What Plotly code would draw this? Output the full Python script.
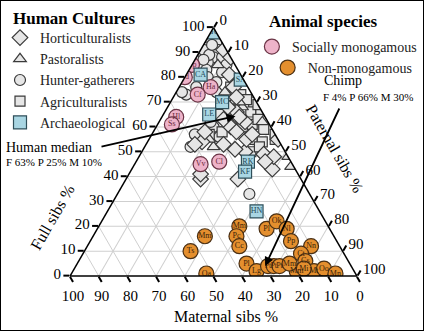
import plotly.graph_objects as go

# ---------------- data (Full %, Paternal %, Maternal %) ----------------
horti_F = [91, 88, 81, 76, 60, 58, 54, 53, 50, 49, 43, 39, 48, 55, 39, 53, 58, 55, 66, 68, 41, 63, 62, 57, 51, 46, 64, 72]
horti_P = [8, 12, 15, 19, 26, 29, 19, 27, 36, 43, 49, 39, 47, 45, 26, 17, 18, 34, 25, 21, 25, 22, 30, 35, 32, 45, 27, 22]
horti_M = [1, 0, 4, 5, 14, 13, 27, 20, 14, 8, 8, 22, 5, 0, 35, 30, 24, 11, 9, 11, 34, 15, 8, 8, 17, 9, 9, 6]

past_F = [85, 74, 70, 68, 52, 48, 44, 70, 55, 66, 61, 62]
past_P = [9, 17, 22, 26, 24, 52, 55, 24, 21, 22, 26, 36]
past_M = [6, 9, 8, 6, 24, 0, 1, 6, 24, 12, 13, 2]

hunt_F = [95, 94, 92, 91, 89, 88, 88, 85, 86, 85, 74, 73, 57, 58, 33, 63, 91, 74,
          83, 80, 78, 76, 89, 93, 87, 82, 60, 62, 56, 52]
hunt_P = [1, 4, 2, 6, 2, 6, 9, 3, 5, 12, 14, 4, 15, 23, 46, 28, 1, 2,
          6, 8, 12, 6, 4, 3, 3, 12, 20, 18, 24, 16]
hunt_M = [4, 2, 6, 3, 9, 6, 3, 12, 9, 3, 12, 23, 28, 19, 21, 9, 8, 24,
          11, 12, 10, 18, 7, 4, 10, 6, 20, 20, 20, 32]

agri_F = [73, 70, 65, 66, 67, 61, 57, 55, 54, 55, 57, 69, 50, 63, 59, 52, 60, 76, 71, 58]
agri_P = [23, 29, 20, 30, 33, 33, 20, 36, 40, 44, 43, 31, 38, 34, 38, 40, 30, 18, 26, 24]
agri_M = [4, 1, 15, 4, 0, 6, 23, 9, 6, 1, 0, 0, 12, 3, 3, 8, 10, 6, 3, 18]

arch_lab = ["GU", "CA", "SA", "MC", "LE", "RK", "KF", "HN"]
arch_F = [98, 81, 79, 70, 65, 46, 42, 26]
arch_P = [1, 5, 20, 18, 16, 39, 40, 52]
arch_M = [1, 14, 1, 12, 19, 15, 18, 22]

mono_lab = ["Lp", "Fd", "Ha", "Cf", "Hl", "Ss", "Vv", "Cl"]
mono_F = [85, 80, 76, 73, 64, 61, 45, 46]
mono_P = [0, 0, 11, 8, 5, 5, 23, 29]
mono_M = [15, 20, 13, 19, 31, 34, 32, 25]

nonmono_lab = ["Ts", "Mm", "Oa", "Mm", "Pc", "Cc", "Pl", "Lg", "Pt", "Pt", "Pt", "Pl", "Ok",
               "Nl", "Pp", "Nn", "Ct", "Cs", "Mm", "Mt", "Oo", "Mn", "Mm", "Mi"]
nonmono_F = [10, 16, 1, 20, 16, 12, 5, 2, 4, 4, 4, 19, 22, 19, 14, 12, 9, 6, 2, 2, 3, 1, 5, 3]
nonmono_P = [37, 39, 47, 49, 50, 53, 59, 64, 67, 69, 71, 59, 61, 66, 70, 78, 76, 79, 78, 84, 87, 92, 74, 80]
nonmono_M = [53, 45, 52, 31, 34, 35, 36, 34, 29, 27, 25, 22, 17, 15, 16, 10, 15, 15, 20, 14, 10, 7, 21, 17]

median_FPM = [63, 25, 10]
chimp_FPM = [4, 66, 30]

tick_vals = [0, 10, 20, 30, 40, 50, 60, 70, 80, 90, 100]

# ---------------- styling ----------------
W, H = 424, 331
DOM_X = [70 / W, 357 / W]
DOM_Y = [55 / H, 303.5 / H]
SERIF = "Liberation Serif"

HUM_FILL = "#e6e6e6"
HUM_LINE = "#3a3a3a"
ARCH_FILL = "#a9d6e3"
ARCH_LINE = "#2f4f5a"
PINK = "#eeb3c9"
PINK_LINE = "#6b3546"
ORANGE = "#e48f2e"
ORANGE_LINE = "#4a3015"

fig = go.Figure()


def human(F, P, M, symbol, size, name, rank):
    fig.add_trace(go.Scatterternary(
        a=F, b=M, c=P, mode="markers", name=name, legend="legend", legendrank=rank,
        hoverinfo="skip",
        marker=dict(symbol=symbol, size=size, color=HUM_FILL,
                    line=dict(color=HUM_LINE, width=1.2))))


human(hunt_F, hunt_P, hunt_M, "circle", 11, "Hunter-gatherers", 3)
human(agri_F, agri_P, agri_M, "square", 10, "Agriculturalists", 4)
human(past_F, past_P, past_M, "triangle-up", 11, "Pastoralists", 2)
human(horti_F, horti_P, horti_M, "diamond", 12, "Horticulturalists", 1)


def labelled(F, P, M, labels, fill, line, tcolor, symbol, size, name, legend, rank):
    fig.add_trace(go.Scatterternary(
        a=F, b=M, c=P, mode="markers", name=name, legend=legend, legendrank=rank,
        hoverinfo="skip",
        marker=dict(symbol=symbol, size=size, color=fill, line=dict(color=line, width=1.2))))
    fig.add_trace(go.Scatterternary(
        a=F, b=M, c=P, text=labels, mode="text", textposition="middle center",
        showlegend=False, hoverinfo="skip",
        textfont=dict(family=SERIF, size=8, color=tcolor)))


labelled(mono_F, mono_P, mono_M, mono_lab, PINK, PINK_LINE, "#6b2a3c", "circle", 15,
         "Socially monogamous", "legend2", 1)
labelled(nonmono_F, nonmono_P, nonmono_M, nonmono_lab, ORANGE, ORANGE_LINE, "#3a2208", "circle", 15,
         "Non-monogamous", "legend3", 1)
labelled(arch_F, arch_P, arch_M, arch_lab, ARCH_FILL, ARCH_LINE, "#1f4a58", "square", 13,
         "Archaeological", "legend", 5)


def axis():
    return dict(title=dict(text=""), min=0, linecolor="black", linewidth=1.5,
                gridcolor="#cfcfcf", gridwidth=1, showgrid=True,
                ticks="outside", ticklen=6, tickwidth=1.5, tickcolor="black",
                tickvals=tick_vals, ticktext=[str(v) for v in tick_vals],
                tickfont=dict(family=SERIF, size=15, color="black"))


def leg(x, y, xanchor="left"):
    return dict(x=x, y=y, xanchor=xanchor, yanchor="top", bgcolor="rgba(0,0,0,0)",
                font=dict(family=SERIF, size=14, color="#222"), itemsizing="trace",
                tracegroupgap=0, itemwidth=30)


fig.update_layout(
    width=W, height=H, margin=dict(l=0, r=0, t=0, b=0),
    paper_bgcolor="white", plot_bgcolor="white",
    ternary=dict(sum=100, domain=dict(x=DOM_X, y=DOM_Y), bgcolor="white",
                 aaxis=axis(), baxis=axis(), caxis=axis()),
    legend=leg(0.0, 1 - 22 / H),
    legend2=leg(0.995, 1 - 31 / H, "right"),
    legend3=leg(0.985, 1 - 52 / H, "right"),
    showlegend=True,
)


def to_px(fpm):
    F, P, M = fpm
    s = F + P + M
    a, c = F / s, P / s
    x0, x1 = DOM_X[0] * W, DOM_X[1] * W
    ybase = H - DOM_Y[0] * H
    side = x1 - x0
    h = side * 3 ** 0.5 / 2
    return x0 + a * side / 2 + c * side, ybase - a * h


ann = []
# axis titles
ann.append(dict(text="Full sibs %", x=52 / W, y=1 - 217 / H, textangle=-60))
ann.append(dict(text="Maternal sibs %", x=226 / W, y=1 - 316 / H, textangle=0))
ann.append(dict(text="Paternal sibs %", x=335 / W, y=1 - 148 / H, textangle=60))
for a_ in ann:
    a_.update(xref="paper", yref="paper", showarrow=False, xanchor="center", yanchor="middle",
              font=dict(family=SERIF, size=16, color="black"))

# legend titles
ann.append(dict(text="<b>Human Cultures</b>", x=11 / W, y=1 - 19 / H, xref="paper", yref="paper",
                xanchor="left", yanchor="middle", showarrow=False,
                font=dict(family=SERIF, size=17, color="black")))
ann.append(dict(text="<b>Animal species</b>", x=323 / W, y=1 - 21 / H, xref="paper", yref="paper",
                xanchor="center", yanchor="middle", showarrow=False,
                font=dict(family=SERIF, size=17, color="black")))

# human median
mx, my = to_px(median_FPM)
ann.append(dict(text="", x=mx / W, y=1 - my / H, xref="paper", yref="paper",
                showarrow=True, arrowhead=2, arrowsize=1, arrowwidth=1.8, arrowcolor="black",
                ax=100 - mx, ay=147 - my))
ann.append(dict(text="Human median", x=4 / W, y=1 - 147 / H, xref="paper", yref="paper",
                xanchor="left", yanchor="middle", showarrow=False,
                font=dict(family=SERIF, size=14, color="black")))
ann.append(dict(text="F %d%% P %d%% M %d%%" % tuple(median_FPM), x=4 / W, y=1 - 162 / H,
                xref="paper", yref="paper", xanchor="left", yanchor="middle", showarrow=False,
                font=dict(family=SERIF, size=11, color="black")))
# chimp
cx, cy = to_px(chimp_FPM)
ann.append(dict(text="", x=cx / W, y=1 - cy / H, xref="paper", yref="paper",
                showarrow=True, arrowhead=2, arrowsize=1, arrowwidth=1.8, arrowcolor="black",
                ax=340 - cx, ay=107 - cy))
ann.append(dict(text="Chimp", x=322 / W, y=1 - 80 / H, xref="paper", yref="paper",
                xanchor="left", yanchor="middle", showarrow=False,
                font=dict(family=SERIF, size=14, color="black")))
ann.append(dict(text="F %d%% P %d%% M %d%%" % (chimp_FPM[0], chimp_FPM[1], chimp_FPM[2]),
                x=321 / W, y=1 - 97 / H, xref="paper", yref="paper", xanchor="left",
                yanchor="middle", showarrow=False, font=dict(family=SERIF, size=11, color="black")))

fig.update_layout(annotations=ann,
                  shapes=[dict(type="rect", xref="paper", yref="paper", x0=0, y0=0, x1=1, y1=1,
                               line=dict(color="black", width=2))])

fig.write_html("out.html")
